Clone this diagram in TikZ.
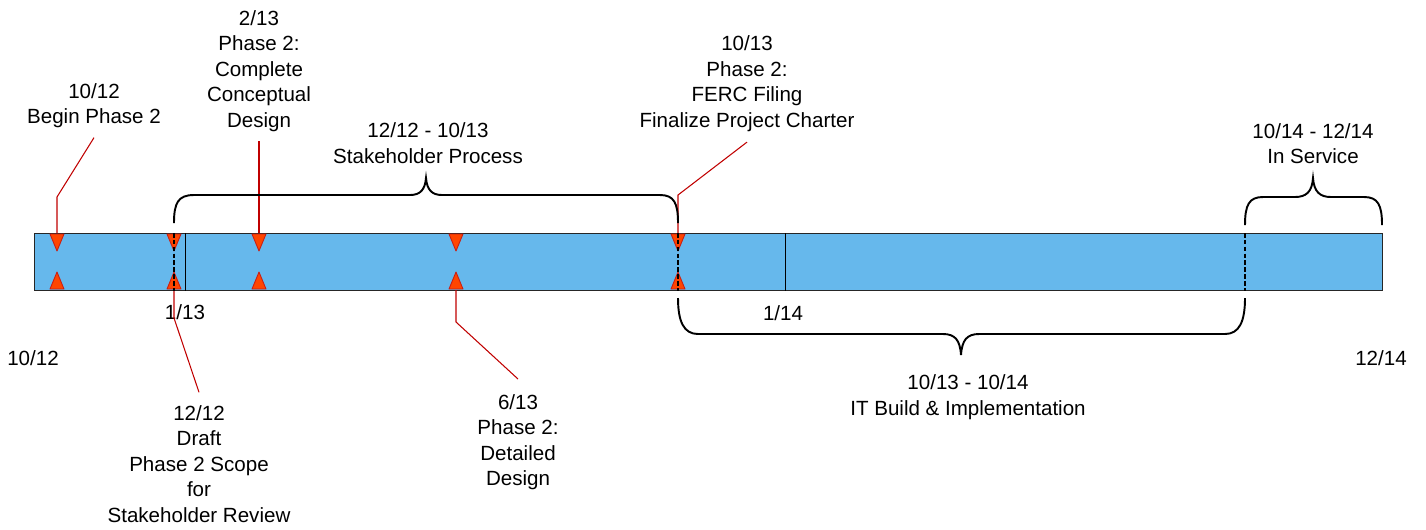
\documentclass[tikz,border=0pt]{standalone}
\usepackage{fontspec}
\setmainfont{Liberation Sans}
\usepackage{tikz}
\usetikzlibrary{calc,positioning}
\definecolor{barblue}{RGB}{102,184,236}
\definecolor{markred}{RGB}{255,69,0}
\definecolor{markedge}{RGB}{200,30,20}
\definecolor{leadred}{RGB}{192,0,0}
\newcommand{\tlfont}{\fontsize{11.7}{14.5}\selectfont}

\begin{document}
\begin{tikzpicture}[x=0.02cm, y=-0.02cm,
	lbl/.style={inner sep=0pt, font=\tlfont},
	lead/.style={draw=leadred, line width=0.6pt},
	tri/.style={fill=markred, draw=markedge, line width=0.5pt, line join=round},
	brc/.style={draw=black, line width=1.1pt},
	cut/.style={draw=black, line width=0.6pt, dash pattern=on 2.6pt off 1.3pt}]

	\useasboundingbox (0,0) rectangle (1426,529);

	\node[draw=black!85, fill=barblue, line width=0.6pt, inner sep=0pt, anchor=north west,
		minimum width=26.96cm, minimum height=1.14cm, shift = {(34,233)}] (bar) {};

	\coordinate (mk_begin) at (57,233);
	\coordinate (mk_draft) at (174,290);
	\coordinate (mk_concept) at (259,233);
	\coordinate (mk_detail) at (456,290);
	\coordinate (mk_ferc) at (678,233);

	\node[lbl, shift = {(94,105.8)}] (lb_begin) {
		\begin{tabular}{c}
			\tlfont 10/12\\
			\tlfont Begin Phase 2
		\end{tabular}
	};

	\node[lbl, shift = {(259,71.3)}] (lb_concept) {
		\begin{tabular}{c}
			\tlfont 2/13\\
			\tlfont Phase 2:\\
			\tlfont Complete\\
			\tlfont Conceptual\\
			\tlfont Design
		\end{tabular}
	};

	\node[lbl, shift = {(428,145.3)}] (lb_stake) {
		\begin{tabular}{c}
			\tlfont 12/12 - 10/13\\
			\tlfont Stakeholder Process
		\end{tabular}
	};

	\node[lbl, shift = {(747,83.8)}] (lb_ferc) {
		\begin{tabular}{c}
			\tlfont 10/13\\
			\tlfont Phase 2:\\
			\tlfont FERC Filing\\
			\tlfont Finalize Project Charter
		\end{tabular}
	};

	\node[lbl, shift = {(1313,145.8)}] (lb_service) {
		\begin{tabular}{c}
			\tlfont 10/14 - 12/14\\
			\tlfont In Service
		\end{tabular}
	};

	\node[lbl, shift = {(199,466.3)}] (lb_draft) {
		\begin{tabular}{c}
			\tlfont 12/12\\
			\tlfont Draft\\
			\tlfont Phase 2 Scope\\
			\tlfont for\\
			\tlfont Stakeholder Review
		\end{tabular}
	};

	\node[lbl, shift = {(518,442.3)}] (lb_detail) {
		\begin{tabular}{c}
			\tlfont 6/13\\
			\tlfont Phase 2:\\
			\tlfont Detailed\\
			\tlfont Design
		\end{tabular}
	};

	\node[lbl, shift = {(968,397.3)}] (lb_build) {
		\begin{tabular}{c}
			\tlfont 10/13 - 10/14\\
			\tlfont IT Build \& Implementation
		\end{tabular}
	};

	\node[lbl, shift = {(185,312.3)}] (dt_jan13) {\tlfont 1/13};
	\node[lbl, shift = {(783,313)}] (dt_jan14) {\tlfont 1/14};
	\node[lbl, shift = {(33,358.3)}] (dt_start) {\tlfont 10/12};
	\node[lbl, shift = {(1381,358.3)}] (dt_end) {\tlfont 12/14};

	\draw ($(bar.north west)+(151,0)$) -- ($(bar.south west)+(151,0)$);
	\draw ($(bar.north west)+(751,0)$) -- ($(bar.south west)+(751,0)$);

	\draw[lead] ($(lb_begin.south)+(0,6)$) -- ($(mk_begin)+(0,-36)$) -- (mk_begin);
	\draw[lead] ($(lb_concept.south)+(0,6)$) -- (mk_concept);
	\draw[lead] ($(lb_ferc.south)+(0,7)$) -- ($(mk_ferc)+(0,-38)$) -- (mk_ferc);
	\draw[lead] (mk_draft) -- ($(mk_draft)+(0,28)$) -- ($(lb_draft.north)+(0,-10)$);
	\draw[lead] (mk_detail) -- ($(mk_detail)+(0,32)$) -- ($(lb_detail.north)+(0,-12)$);

	\draw[tri] (50,234) -- (64,234) -- (57,251) -- cycle;
	\draw[tri] (50,289) -- (64,289) -- (57,272) -- cycle;
	\draw[tri] (167,234) -- (181,234) -- (174,251) -- cycle;
	\draw[tri] (167,289) -- (181,289) -- (174,272) -- cycle;
	\draw[tri] (252,234) -- (266,234) -- (259,251) -- cycle;
	\draw[tri] (252,289) -- (266,289) -- (259,272) -- cycle;
	\draw[tri] (449,234) -- (463,234) -- (456,251) -- cycle;
	\draw[tri] (449,289) -- (463,289) -- (456,272) -- cycle;
	\draw[tri] (671,234) -- (685,234) -- (678,251) -- cycle;
	\draw[tri] (671,289) -- (685,289) -- (678,272) -- cycle;

	\draw[cut] ($(bar.north west)+(140,0)$) -- ($(bar.south west)+(140,0)$);
	\draw[cut] ($(bar.north west)+(644,0)$) -- ($(bar.south west)+(644,0)$);
	\draw[cut] ($(bar.north west)+(1211,0)$) -- ($(bar.south west)+(1211,0)$);

	% braces
	\draw[brc] (174,223) .. controls (174,203) and (178,195) .. (194,195) -- (410,195)
		.. controls (420,195) and (425,190) .. (426,178) .. controls (427,190) and (432,195) .. (442,195)
		-- (660,195) .. controls (674,195) and (678,203) .. (678,223);
	\draw[brc] (678,298) .. controls (678,322) and (684,334) .. (698,334) -- (943,334)
		.. controls (955,334) and (960,340) .. (961,355) .. controls (962,340) and (967,334) .. (979,334)
		-- (1225,334) .. controls (1239,334) and (1245,322) .. (1245,298);
	\draw[brc] (1245,225) .. controls (1245,205) and (1249,197) .. (1263,197) -- (1295,197)
		.. controls (1306,197) and (1312,192) .. (1313,178) .. controls (1314,192) and (1320,197) .. (1331,197)
		-- (1364,197) .. controls (1378,197) and (1382,205) .. (1382,225);
\end{tikzpicture}
\end{document}
